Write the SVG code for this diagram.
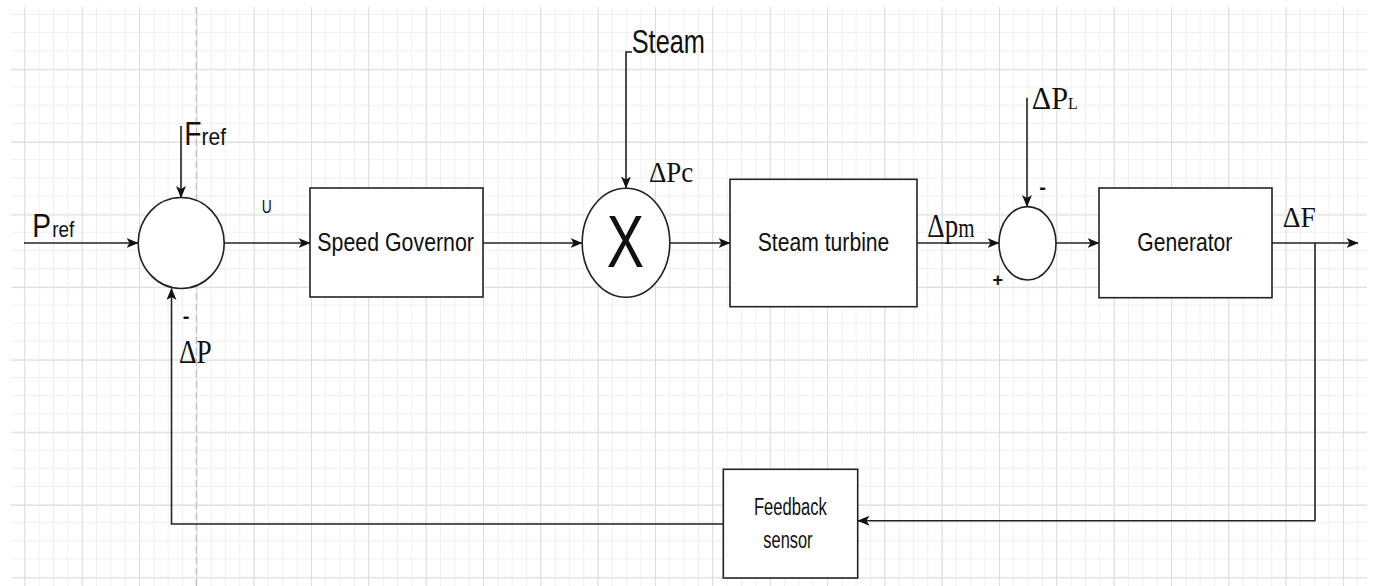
<svg xmlns="http://www.w3.org/2000/svg" width="1373" height="586" viewBox="0 0 1373 586">
  <style>
    .box { fill: #ffffff; stroke: #222222; stroke-width: 1.6; }
    .wire { fill: none; stroke: #222222; stroke-width: 1.6; }
    .sans { font-family: "Liberation Sans", Arial, sans-serif; fill: #111111; }
    .serif { font-family: "Liberation Serif", "Times New Roman", serif; fill: #111111; }
  </style>
  <defs>
    <pattern id="minor" patternUnits="userSpaceOnUse" x="24.33" y="14" width="14.333" height="18.15">
      <path d="M0.5,0 V18.15 M0,0.5 H14.333" fill="none" stroke="#efefef" stroke-width="1"/>
    </pattern>
    <pattern id="major" patternUnits="userSpaceOnUse" x="24.33" y="-3.3" width="57.333" height="72.6">
      <path d="M0.5,0 V72.6 M0,0.5 H57.333" fill="none" stroke="#dddddd" stroke-width="1"/>
    </pattern>
    <marker id="arr" viewBox="0 0 12 10" refX="11.5" refY="5" markerWidth="12" markerHeight="10" markerUnits="userSpaceOnUse" orient="auto">
      <path d="M0,0 L12,5 L0,10 L3,5 Z" fill="#111111"/>
    </marker>
  </defs>

  <rect x="0" y="0" width="1373" height="586" fill="#ffffff"/>
  <g id="grid">
    <rect x="11" y="7" width="1356" height="579" fill="url(#minor)"/>
    <rect x="11" y="7" width="1356" height="579" fill="url(#major)"/>
    <line x1="196.3" y1="7" x2="196.3" y2="586" stroke="#bdbdbd" stroke-width="1.2" stroke-dasharray="7 4"/>
  </g>

  <g id="connectors">
    <path class="wire" d="M24,243 H138" marker-end="url(#arr)"/>
    <path class="wire" d="M181,126 V197.5" marker-end="url(#arr)"/>
    <path class="wire" d="M224,243 H310" marker-end="url(#arr)"/>
    <path class="wire" d="M483,243 H582" marker-end="url(#arr)"/>
    <path class="wire" d="M632,52 H626 V188" marker-end="url(#arr)"/>
    <path class="wire" d="M670,243 H730" marker-end="url(#arr)"/>
    <path class="wire" d="M917,243 H999" marker-end="url(#arr)"/>
    <path class="wire" d="M1027,97.7 V206.5" marker-end="url(#arr)"/>
    <path class="wire" d="M1056,243 H1099" marker-end="url(#arr)"/>
    <path class="wire" d="M1272,243 H1358" marker-end="url(#arr)"/>
    <path class="wire" d="M1315,243 V520.7 H858" marker-end="url(#arr)"/>
    <path class="wire" d="M723,524 H171.5 V288.5" marker-end="url(#arr)"/>
  </g>

  <g id="sum1">
    <ellipse class="box" cx="181.2" cy="243" rx="43" ry="45.5"/>
  </g>
  <g id="speed-governor">
    <rect class="box" x="310" y="188" width="173" height="109"/>
    <text class="sans" x="317.3" y="250.5" font-size="26.5" textLength="156.7" lengthAdjust="spacingAndGlyphs">Speed Governor</text>
  </g>
  <g id="multiplier">
    <ellipse class="box" cx="626" cy="242.8" rx="43.8" ry="54.5"/>
    <text class="sans" x="606.7" y="266.7" font-size="75" textLength="37.3" lengthAdjust="spacingAndGlyphs">X</text>
  </g>
  <g id="steam-turbine">
    <rect class="box" x="730" y="179.3" width="187" height="127.4"/>
    <text class="sans" x="757.7" y="250.5" font-size="26.5" textLength="131.7" lengthAdjust="spacingAndGlyphs">Steam turbine</text>
  </g>
  <g id="sum2">
    <ellipse class="box" cx="1027.5" cy="243.3" rx="28.5" ry="36.7"/>
  </g>
  <g id="generator">
    <rect class="box" x="1099" y="188" width="173" height="109.7"/>
    <text class="sans" x="1137.3" y="251" font-size="26.5" textLength="95" lengthAdjust="spacingAndGlyphs">Generator</text>
  </g>
  <g id="feedback-sensor">
    <rect class="box" x="723.3" y="469.3" width="134.4" height="108.7"/>
    <text class="sans" x="754" y="515" font-size="24.7" textLength="72.7" lengthAdjust="spacingAndGlyphs">Feedback</text>
    <text class="sans" x="763.3" y="548.3" font-size="24.7" textLength="49.3" lengthAdjust="spacingAndGlyphs">sensor</text>
  </g>

  <g id="labels">
    <text class="sans" x="32.3" y="237.3" font-size="33.5" textLength="42" lengthAdjust="spacingAndGlyphs">P<tspan dx="1.5" font-size="22.5">ref</tspan></text>
    <text class="sans" x="184.3" y="145" font-size="32.5" textLength="41.7" lengthAdjust="spacingAndGlyphs">F<tspan font-size="24">ref</tspan></text>
    <text class="sans" x="261.7" y="212.7" font-size="19" textLength="10" lengthAdjust="spacingAndGlyphs">U</text>
    <text class="sans" x="631.7" y="53.3" font-size="32.5" textLength="73.3" lengthAdjust="spacingAndGlyphs">Steam</text>
    <text class="serif" x="649" y="181.7" font-size="30" textLength="44.3" lengthAdjust="spacingAndGlyphs">ΔPc</text>
    <text class="serif" transform="translate(927.3,236.7) scale(1,1.26)" font-size="27">Δp<tspan font-size="21">m</tspan></text>
    <text class="serif" x="1031.7" y="109.3" font-size="31.7" textLength="46" lengthAdjust="spacingAndGlyphs">ΔP<tspan font-size="16.6">L</tspan></text>
    <text class="serif" x="1282.7" y="226.7" font-size="30" textLength="33" lengthAdjust="spacingAndGlyphs">ΔF</text>
    <text class="serif" x="179" y="362.7" font-size="34" textLength="32.7" lengthAdjust="spacingAndGlyphs">ΔP</text>
    <text class="sans" x="182.7" y="322.7" font-size="20" font-weight="bold">-</text>
    <text class="sans" x="1039.3" y="194" font-size="20" font-weight="bold">-</text>
    <text class="sans" x="992.5" y="285.6" font-size="18" font-weight="bold">+</text>
  </g>
</svg>
